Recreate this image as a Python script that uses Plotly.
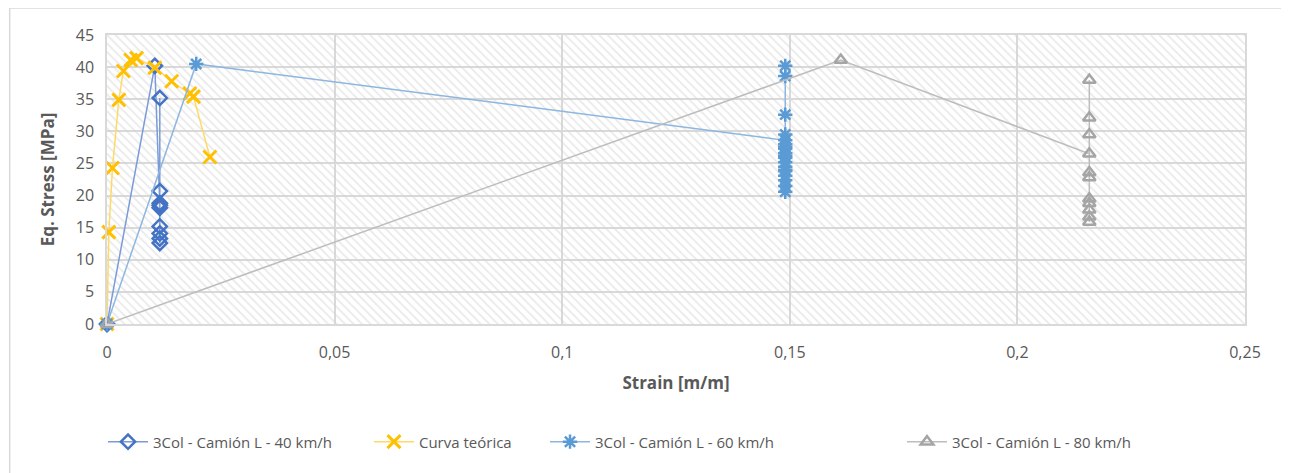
import plotly.graph_objects as go

# ---- data ----
s40_x = [0, 0.0105, 0.0116, 0.0116, 0.0116, 0.0116, 0.0116, 0.0116, 0.0116, 0.0116, 0.0116]
s40_y = [0, 40.2, 18.5, 35.2, 20.7, 18.8, 18.1, 15.2, 14.1, 13.3, 12.6]

teo_x = [0, 0.0004, 0.0012, 0.0026, 0.0036, 0.0052, 0.0065, 0.0105, 0.0142, 0.0182, 0.019, 0.0226]
teo_y = [0, 14.3, 24.3, 34.9, 39.4, 41.1, 41.4, 39.9, 37.8, 35.9, 35.4, 26.0]

s60_x = [0, 0.0196, 0.149, 0.149, 0.149, 0.149, 0.149, 0.149, 0.149, 0.149, 0.149, 0.149,
         0.149, 0.149, 0.149, 0.149, 0.149, 0.149, 0.149, 0.149, 0.149]
s60_y = [0, 40.5, 28.6, 28.0, 27.3, 26.6, 25.9, 25.2, 24.5, 23.8, 23.1, 22.4, 21.5, 20.6,
         24.0, 26.2, 27.6, 29.5, 32.6, 38.6, 40.2]

s80_x = [0, 0.1612, 0.2158, 0.2158, 0.2158, 0.2158, 0.2158, 0.2158, 0.2158, 0.2158, 0.2158,
         0.2158, 0.2158]
s80_y = [0, 41.1, 26.5, 23.6, 22.8, 19.5, 18.8, 17.8, 16.7, 15.9, 29.5, 32.1, 38.0]

x_ticks = [0, 0.05, 0.1, 0.15, 0.2, 0.25]
x_ticktext = ["0", "0,05", "0,1", "0,15", "0,2", "0,25"]
y_ticks = [0, 5, 10, 15, 20, 25, 30, 35, 40, 45]

names = ["3Col - Camión L - 40 km/h", "Curva teórica",
         "3Col - Camión L - 60 km/h", "3Col - Camión L - 80 km/h"]

fig = go.Figure()

# hatched plot-area background
fig.add_trace(go.Scatter(
    x=[x_ticks[0], x_ticks[-1], x_ticks[-1], x_ticks[0], x_ticks[0]],
    y=[y_ticks[0], y_ticks[0], y_ticks[-1], y_ticks[-1], y_ticks[0]],
    mode="none", fill="toself", fillcolor="rgba(0,0,0,0)",
    fillpattern=dict(shape="\\", fgcolor="#d4d4d4", bgcolor="rgba(0,0,0,0)",
                     size=6, solidity=0.3),
    showlegend=False, hoverinfo="skip"))

fig.add_trace(go.Scatter(
    x=s40_x, y=s40_y, name=names[0], mode="lines+markers", legend="legend",
    cliponaxis=False,
    line=dict(color="#7A9BD8", width=1.5),
    marker=dict(symbol="diamond-open", size=11, color="#4472C4",
                line=dict(width=2.5, color="#4472C4"))))

fig.add_trace(go.Scatter(
    x=teo_x, y=teo_y, name=names[1], mode="lines+markers", legend="legend2",
    cliponaxis=False,
    line=dict(color="#FFD966", width=1.5),
    marker=dict(symbol="x-thin-open", size=13, color="#FFC000",
                line=dict(width=3, color="#FFC000"))))

fig.add_trace(go.Scatter(
    x=s60_x, y=s60_y, name=names[2], mode="lines+markers", legend="legend3",
    cliponaxis=False,
    line=dict(color="#8DB6E0", width=1.5),
    marker=dict(symbol="asterisk-open", size=12, color="#5B9BD5",
                line=dict(width=2.5, color="#5B9BD5"))))

fig.add_trace(go.Scatter(
    x=s80_x, y=s80_y, name=names[3], mode="lines+markers", legend="legend4",
    cliponaxis=False,
    line=dict(color="#BDBDBD", width=1.5),
    marker=dict(symbol="triangle-up-open", size=11, color="#A5A5A5",
                line=dict(width=2.5, color="#A5A5A5"))))

font_fam = "Open Sans, Noto Sans, sans-serif"

def leg(xpos):
    return dict(orientation="h", x=xpos, xanchor="left", y=-0.408, yanchor="middle",
                font=dict(size=15, color="#595959"), itemwidth=40,
                bgcolor="rgba(0,0,0,0)", borderwidth=0)

fig.update_layout(
    width=1289, height=473,
    margin=dict(l=99, r=52, t=27, b=157),
    paper_bgcolor="white", plot_bgcolor="white",
    font=dict(family=font_fam, size=14, color="#595959"),
    showlegend=True,
    legend=leg(-0.0035), legend2=leg(0.2302), legend3=leg(0.3849), legend4=leg(0.6986),
)

fig.update_xaxes(
    range=[x_ticks[0], x_ticks[-1]], tickvals=x_ticks, ticktext=x_ticktext,
    showgrid=True, gridcolor="#D9D9D9", gridwidth=1.5, zeroline=False,
    showline=True, linecolor="#D9D9D9", linewidth=1.5, mirror=True,
    ticks="", ticklabelstandoff=13, tickfont=dict(size=16, color="#595959"),
    title=dict(text="<b>Strain [m/m]</b>", font=dict(size=17, color="#595959"), standoff=15),
)
fig.update_yaxes(
    range=[y_ticks[0], y_ticks[-1]], tickvals=y_ticks,
    showgrid=True, gridcolor="#D9D9D9", gridwidth=1.5, zeroline=False,
    showline=True, linecolor="#D9D9D9", linewidth=1.5, mirror=True,
    ticks="", ticklabelstandoff=8, tickfont=dict(size=16, color="#595959"),
    title=dict(text="<b>Eq. Stress [MPa]</b>", font=dict(size=17, color="#595959"), standoff=17),
)

# outer chart border
fig.add_shape(type="rect", xref="paper", yref="paper",
              x0=-0.0855, x1=1.0325, y0=-0.56, y1=1.0934,
              line=dict(color="#D9D9D9", width=1.5), fillcolor="rgba(0,0,0,0)", layer="below")

fig.write_html("out.html")
